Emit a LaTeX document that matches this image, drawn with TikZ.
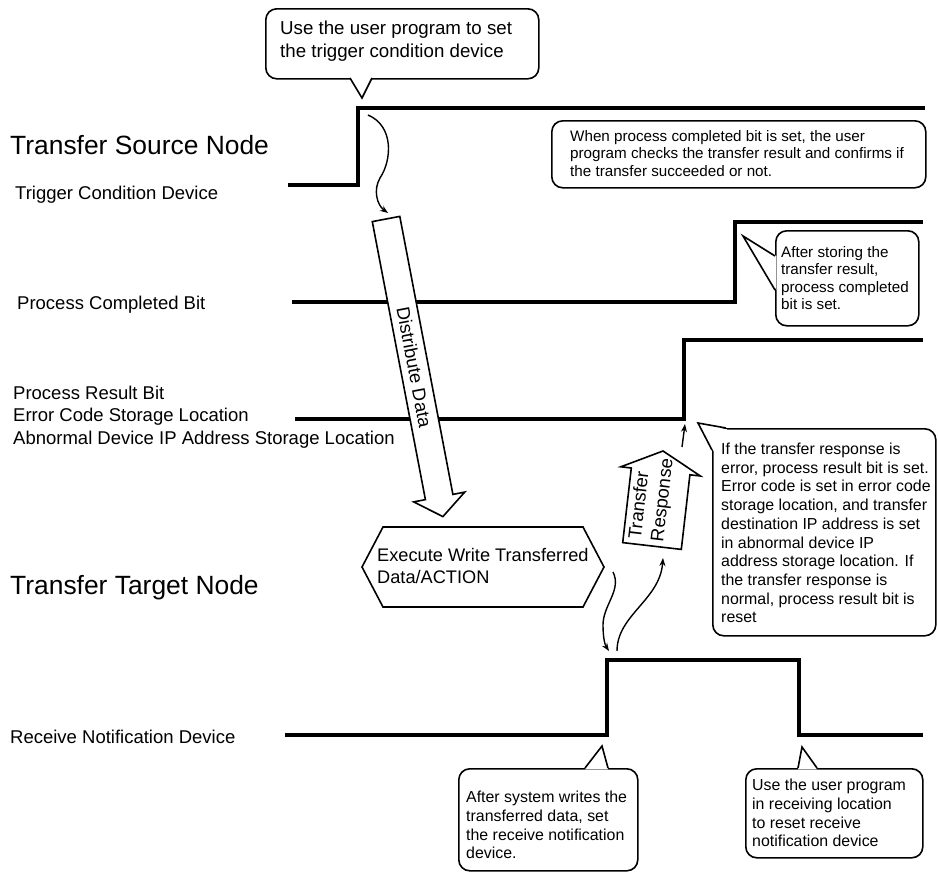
\documentclass[tikz,border=0pt]{standalone}
\usepackage{fontspec}
\setmainfont{Liberation Sans}
\usetikzlibrary{arrows.meta}
\newcommand\HeadFont{\fontsize{26.4}{30}\selectfont}
\newcommand\LblFont{\fontsize{18.5}{22.5}\selectfont}
\newcommand\HexFont{\fontsize{18.2}{22.5}\selectfont}
\newcommand\TopFont{\fontsize{18.7}{23}\selectfont}
\newcommand\SmallFont{\fontsize{15.2}{17.3}\selectfont}
\newcommand\CalFont{\fontsize{15.9}{18.7}\selectfont}
\begin{document}
\begin{tikzpicture}[x=1pt,y=-1pt,
  wave/.style={line width=4.5pt},
  cbox/.style={draw, line width=1.6pt, rounded corners=11pt, fill=white, inner sep=0pt, anchor=north west},
  cline/.style={line width=1.6pt, line join=miter},
  ctext/.style={anchor=west, align=left, inner sep=0pt},
  lbl/.style={anchor=west, align=left, inner sep=0pt, font=\LblFont},
  wavy/.style={line width=1.4pt, -{Stealth[length=8pt,width=6pt]}},
  blk/.style={draw, line width=1.6pt, fill=white, line join=miter}]
\path[use as bounding box, fill=white] (0,0) rectangle (938,873);

% ---------- left labels ----------
\node[lbl, font=\HeadFont] (srcnode) at (10,145) {Transfer Source Node};
\node[lbl] (trglbl) at (15,195) {Trigger Condition Device};
\node[lbl] (pcblbl) at (17,305) {Process Completed Bit};
\node[lbl] (prblbl) at (13,417) {Process Result Bit\\Error Code Storage Location\\Abnormal Device IP Address Storage Location};
\node[lbl, font=\HeadFont] (tgtnode) at (10,588) {Transfer Target Node};
\node[lbl] (rcvlbl) at (10,737) {Receive Notification Device};

% ---------- waveforms ----------
\coordinate (trgL) at (288,185);
\coordinate (trgUp) at (358,108);
\draw[wave] (trgL) -- (358,185) -- (trgUp) -- (925,108);
\draw[wave] (292,302) -- (735,302) -- (735,222) -- (923,222);
\coordinate (prbStep) at (684,419);
\draw[wave] (295,419) -- (prbStep) -- (684,340) -- (923,340);
\coordinate (rcvUp) at (607,735);
\draw[wave] (285,735) -- (rcvUp) -- (607,660) -- (799,660) -- (799,735) -- (923,735);

% ---------- callout: top ----------
\node[cbox, minimum width=273pt, minimum height=70pt] (c1) at (265,8) {};
\fill[white] (350,76.6) -- (362,98) -- (372,76.6) -- cycle;
\draw[cline] (350,78) -- (362,98) -- (372,78);
\node[ctext, font=\TopFont] (c1t) at (280,41) {Use the user program to set\\the trigger condition device};

% ---------- callout: process completed check ----------
\node[cbox, minimum width=374pt, minimum height=67pt] (c2) at (551,120) {};
\node[ctext, font=\SmallFont] (c2t) at (570,153.5) {When process completed bit is set, the user\\program checks the transfer result and confirms if\\the transfer succeeded or not.};

% ---------- callout: after storing ----------
\node[cbox, minimum width=143pt, minimum height=95pt] (c3) at (775,230) {};
\fill[white] (776.4,256) -- (743,236) -- (776.4,290) -- cycle;
\draw[cline] (775,256) -- (743,236) -- (775,290);
\node[ctext, font=\SmallFont] (c3t) at (781,278) {After storing the\\transfer result,\\process completed\\bit is set.};

% ---------- callout: transfer response ----------
\node[cbox, minimum width=223pt, minimum height=207pt] (c4) at (712,428) {};
\fill[white] (698,423) -- (727,429.3) -- (713.3,451) -- cycle;
\draw[cline] (726,428) -- (698,423) -- (712,450);
\node[ctext, font=\CalFont] (c4t) at (721,533) {If the transfer response is\\error, process result bit is set.\\Error code is set in error code\\storage location, and transfer\\destination IP address is set\\in abnormal device IP\\address storage location. If\\the transfer response is\\normal, process result bit is\\reset};

% ---------- callout: after system writes ----------
\node[cbox, minimum width=179pt, minimum height=102pt] (c5) at (458,768) {};
\fill[white] (585,769.4) -- (602,746) -- (608,769.4) -- cycle;
\draw[cline] (585,768) -- (602,746) -- (608,768);
\node[ctext, font=\CalFont] (c5t) at (466,825) {After system writes the\\transferred data, set\\the receive notification\\device.};

% ---------- callout: reset ----------
\node[cbox, minimum width=177pt, minimum height=89pt] (c6) at (745,768) {};
\fill[white] (798,769.4) -- (802,747) -- (817,769.4) -- cycle;
\draw[cline] (798,768) -- (802,747) -- (817,768);
\node[ctext, font=\CalFont] (c6t) at (752,813) {Use the user program\\in receiving location\\to reset receive\\notification device};

% ---------- Distribute Data block arrow ----------
\coordinate (ddTop) at (386,219);
\draw[blk] (372.3,221.6) -- (399.8,216.4) -- (452.9,494.4) -- (464.7,492.1) -- (442.9,516.6) -- (413.7,501.9) -- (425.4,499.6) -- cycle;
\node[rotate=-79.2, font=\LblFont, inner sep=0pt] (ddtxt) at (414.3,367) {Distribute Data};
\draw[wavy] (368,115) .. controls (394,126) and (392,160) .. (380,178) .. controls (373,190) and (377,205) .. ([shift={(2,-6)}]ddTop);

% ---------- Execute hexagon ----------
\coordinate (hexR) at (604,567);
\draw[cline] (362,567) -- (383,527) -- (583,527) -- (hexR) -- (583,607) -- (383,607) -- cycle;
\node[ctext, font=\HexFont] (hextxt) at (377,566) {Execute Write Transferred\\Data/ACTION};

% ---------- Transfer Response block arrow ----------
\coordinate (trBot) at (663,558);
\draw[blk] (622.7,542.6) -- (631.3,468.0) -- (620.8,466.8) -- (663,451) -- (700.4,476.0) -- (689.9,474.8) -- (681.3,549.4) -- cycle;
\node[rotate=83.4, font=\LblFont, align=left, inner sep=0pt] (trtxt) at (652,499) {Transfer\\Response};

% ---------- wavy connectors ----------
\draw[wavy] ([shift={(9,5)}]hexR) .. controls (622,590) and (603,605) .. (603,625) .. controls (603,638) and (605,645) .. ([shift={(2,-84)}]rcvUp);
\draw[wavy] ([shift={(10,-84)}]rcvUp) .. controls (617,615) and (660,600) .. (trBot);
\draw[wavy] (682,447) -- ([shift={(1,5)}]prbStep);
\end{tikzpicture}
\end{document}
